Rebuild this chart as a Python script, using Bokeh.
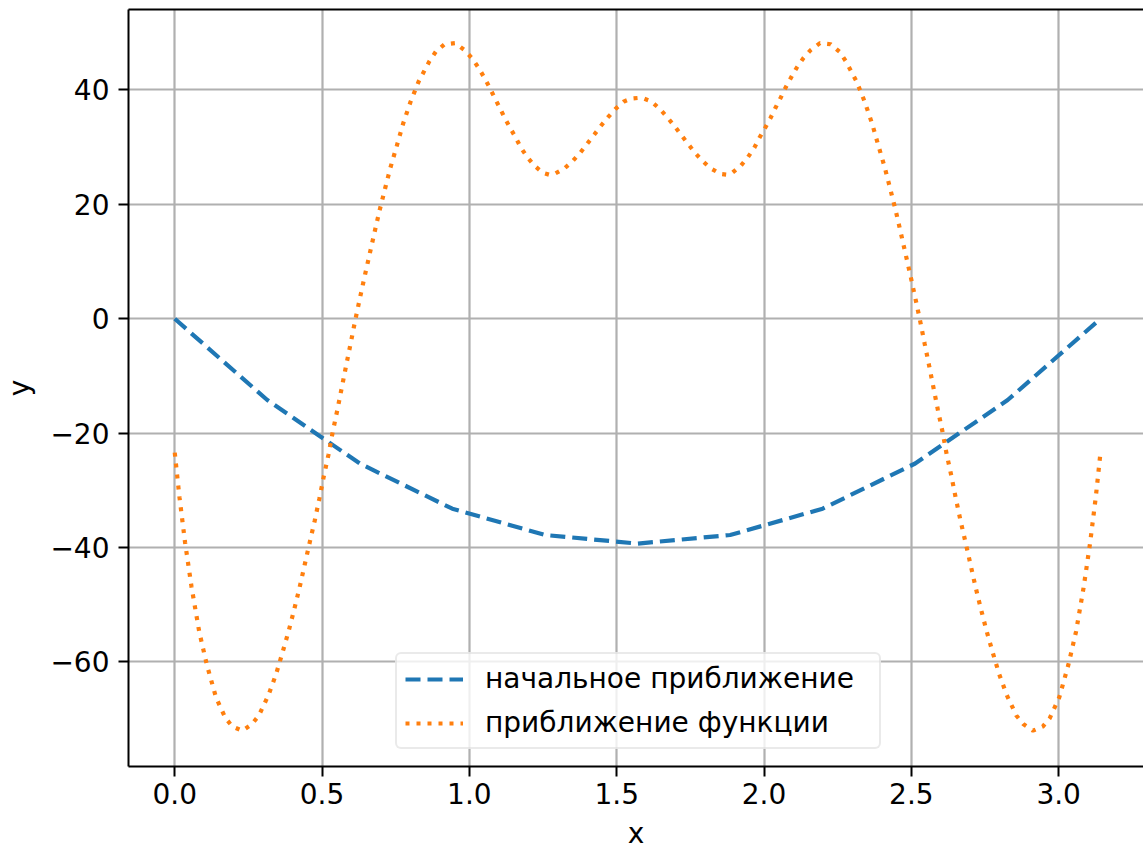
from bokeh.plotting import figure
from bokeh.models import (FixedTicker, CustomJSTickFormatter, Range1d, Legend,
                          LegendItem, LinearAxis)
from bokeh.embed import file_html
from bokeh.resources import INLINE

# ---- data ----
x_init = [0.0, 0.314, 0.628, 0.942, 1.257, 1.571, 1.885, 2.199, 2.513, 2.827, 3.142]
y_init = [0.0, -14.2, -25.3, -33.2, -37.8, -39.3, -37.8, -33.2, -25.3, -14.2, 0.0]

x_func = [0.000, 0.016, 0.035, 0.057, 0.083, 0.109, 0.140, 0.172, 0.196, 0.229,
          0.261, 0.285, 0.318, 0.344, 0.366, 0.387, 0.406, 0.424, 0.441, 0.458,
          0.475, 0.491, 0.506, 0.522, 0.536, 0.552, 0.567, 0.582, 0.597, 0.612,
          0.628, 0.644, 0.661, 0.678, 0.695, 0.714, 0.733, 0.754, 0.775, 0.800,
          0.828, 0.864, 0.886, 0.916, 0.952, 0.983, 1.008, 1.031, 1.050, 1.068,
          1.085, 1.103, 1.120, 1.138, 1.157, 1.175, 1.196, 1.220, 1.250, 1.270,
          1.288, 1.323, 1.351, 1.376, 1.400, 1.424, 1.446, 1.470, 1.496, 1.525,
          1.550, 1.571,
          1.592, 1.617, 1.646, 1.672, 1.696, 1.718, 1.742, 1.766, 1.791, 1.819,
          1.854, 1.872, 1.892, 1.922, 1.946, 1.967, 1.985, 2.004, 2.022, 2.039,
          2.057, 2.074, 2.092, 2.111, 2.134, 2.159, 2.190, 2.226, 2.256, 2.278,
          2.314, 2.342, 2.367, 2.388, 2.409, 2.428, 2.447, 2.464, 2.481, 2.498,
          2.514, 2.530, 2.545, 2.560, 2.575, 2.590, 2.606, 2.620, 2.636, 2.651,
          2.667, 2.684, 2.701, 2.718, 2.736, 2.755, 2.776, 2.798, 2.824, 2.857,
          2.881, 2.913, 2.946, 2.970, 3.002, 3.033, 3.059, 3.085, 3.107, 3.126,
          3.142]
y_func = [-23.4, -31.2, -39.1, -46.9, -54.7, -60.5, -66.2, -69.8, -71.3, -72.0,
          -70.9, -69.4, -65.8, -62.1, -58.3, -54.5, -50.7, -46.9, -43.0, -39.1,
          -35.3, -31.4, -27.5, -23.7, -19.8, -15.9, -12.0, -8.1, -4.3, -0.4,
          3.5, 7.3, 11.2, 15.1, 18.9, 22.8, 26.6, 30.3, 34.1, 37.9,
          41.5, 45.0, 46.7, 48.0, 48.2, 47.0, 45.6, 43.9, 42.2, 40.5,
          38.7, 36.9, 35.1, 33.4, 31.7, 29.9, 28.3, 26.8, 25.5, 25.2,
          25.3, 26.3, 27.6, 29.0, 30.6, 32.2, 33.7, 35.2, 36.7, 38.0,
          38.5, 38.6,
          38.5, 38.0, 36.7, 35.2, 33.7, 32.2, 30.6, 29.0, 27.6, 26.3,
          25.3, 25.2, 25.5, 26.8, 28.3, 29.9, 31.7, 33.4, 35.1, 36.9,
          38.7, 40.5, 42.2, 43.9, 45.6, 47.0, 48.2, 48.0, 46.7, 45.0,
          41.5, 37.9, 34.1, 30.3, 26.6, 22.8, 18.9, 15.1, 11.2, 7.3,
          3.5, -0.4, -4.3, -8.1, -12.0, -15.9, -19.8, -23.7, -27.5, -31.4,
          -35.3, -39.1, -43.0, -46.9, -50.7, -54.5, -58.3, -62.1, -65.8, -69.4,
          -70.9, -72.0, -71.3, -69.8, -66.2, -60.5, -54.7, -46.9, -39.1, -31.2,
          -23.4]

x_ticks = [0.0, 0.5, 1.0, 1.5, 2.0, 2.5, 3.0]
y_ticks = [-60, -40, -20, 0, 20, 40]
legend_labels = ["начальное приближение", "приближение функции"]
x_title = "x"
y_title = "y"

FONT = "DejaVu Sans"
FS = "28px"

p = figure(width=1143, height=852, output_backend="svg", toolbar_location=None,
           x_range=Range1d(-0.157, 3.288), y_range=Range1d(-78.27, 54.07),
           min_border_left=128, min_border_right=0, min_border_top=9,
           min_border_bottom=86)
p.background_fill_color = "white"
p.border_fill_color = "white"
p.outline_line_color = None

bottom = p.below[0]
left = p.left[0]

# top spine (the right spine lies outside the reference picture)
top_axis = LinearAxis(ticker=FixedTicker(ticks=[]), axis_line_width=2,
                      axis_line_color="black", major_tick_line_color=None,
                      minor_tick_line_color=None,
                      major_label_text_font_size="0px")
p.add_layout(top_axis, "above")

for ax in (bottom, left):
    ax.axis_line_width = 2
    ax.axis_line_color = "black"
    ax.major_tick_line_width = 2
    ax.major_tick_line_color = "black"
    ax.major_tick_out = 10
    ax.major_tick_in = 0
    ax.minor_tick_line_color = None
    ax.major_label_text_font = FONT
    ax.major_label_text_font_size = FS
    ax.major_label_text_color = "black"
    ax.axis_label_text_font = FONT
    ax.axis_label_text_font_size = FS
    ax.axis_label_text_font_style = "normal"
    ax.axis_label_text_color = "black"

bottom.major_label_standoff = 6
left.major_label_standoff = 9
bottom.axis_label = x_title
left.axis_label = y_title
bottom.axis_label_standoff = 10
left.axis_label_standoff = 11

bottom.ticker = FixedTicker(ticks=x_ticks)
left.ticker = FixedTicker(ticks=y_ticks)
bottom.formatter = CustomJSTickFormatter(code="return tick.toFixed(1);")
left.formatter = CustomJSTickFormatter(
    code="return tick < 0 ? '\u2212' + String(-tick) : String(tick);")

for g in (p.xgrid[0], p.ygrid[0]):
    g.grid_line_color = "#b0b0b0"
    g.grid_line_width = 2.2
p.xgrid[0].ticker = FixedTicker(ticks=x_ticks)
p.ygrid[0].ticker = FixedTicker(ticks=y_ticks)

r1 = p.line(x_init, y_init, line_color="#1f77b4", line_width=4.2, line_dash="15 7")
r2 = p.line(x_func, y_func, line_color="#ff7f0e", line_width=4.2, line_dash="4 7")

legend = Legend(items=[LegendItem(label=legend_labels[0], renderers=[r1]),
                       LegendItem(label=legend_labels[1], renderers=[r2])],
                location=(267, 17), margin=0, padding=8, spacing=11,
                glyph_width=58, glyph_height=32, label_height=32,
                label_width=386, label_standoff=22,
                label_text_font=FONT, label_text_font_size=FS,
                label_text_color="black",
                border_line_color="#d6d6d6", border_line_width=2,
                border_radius=6,
                background_fill_color="white", background_fill_alpha=0.8)
p.add_layout(legend)

open("out.html", "w").write(file_html(p, INLINE))
